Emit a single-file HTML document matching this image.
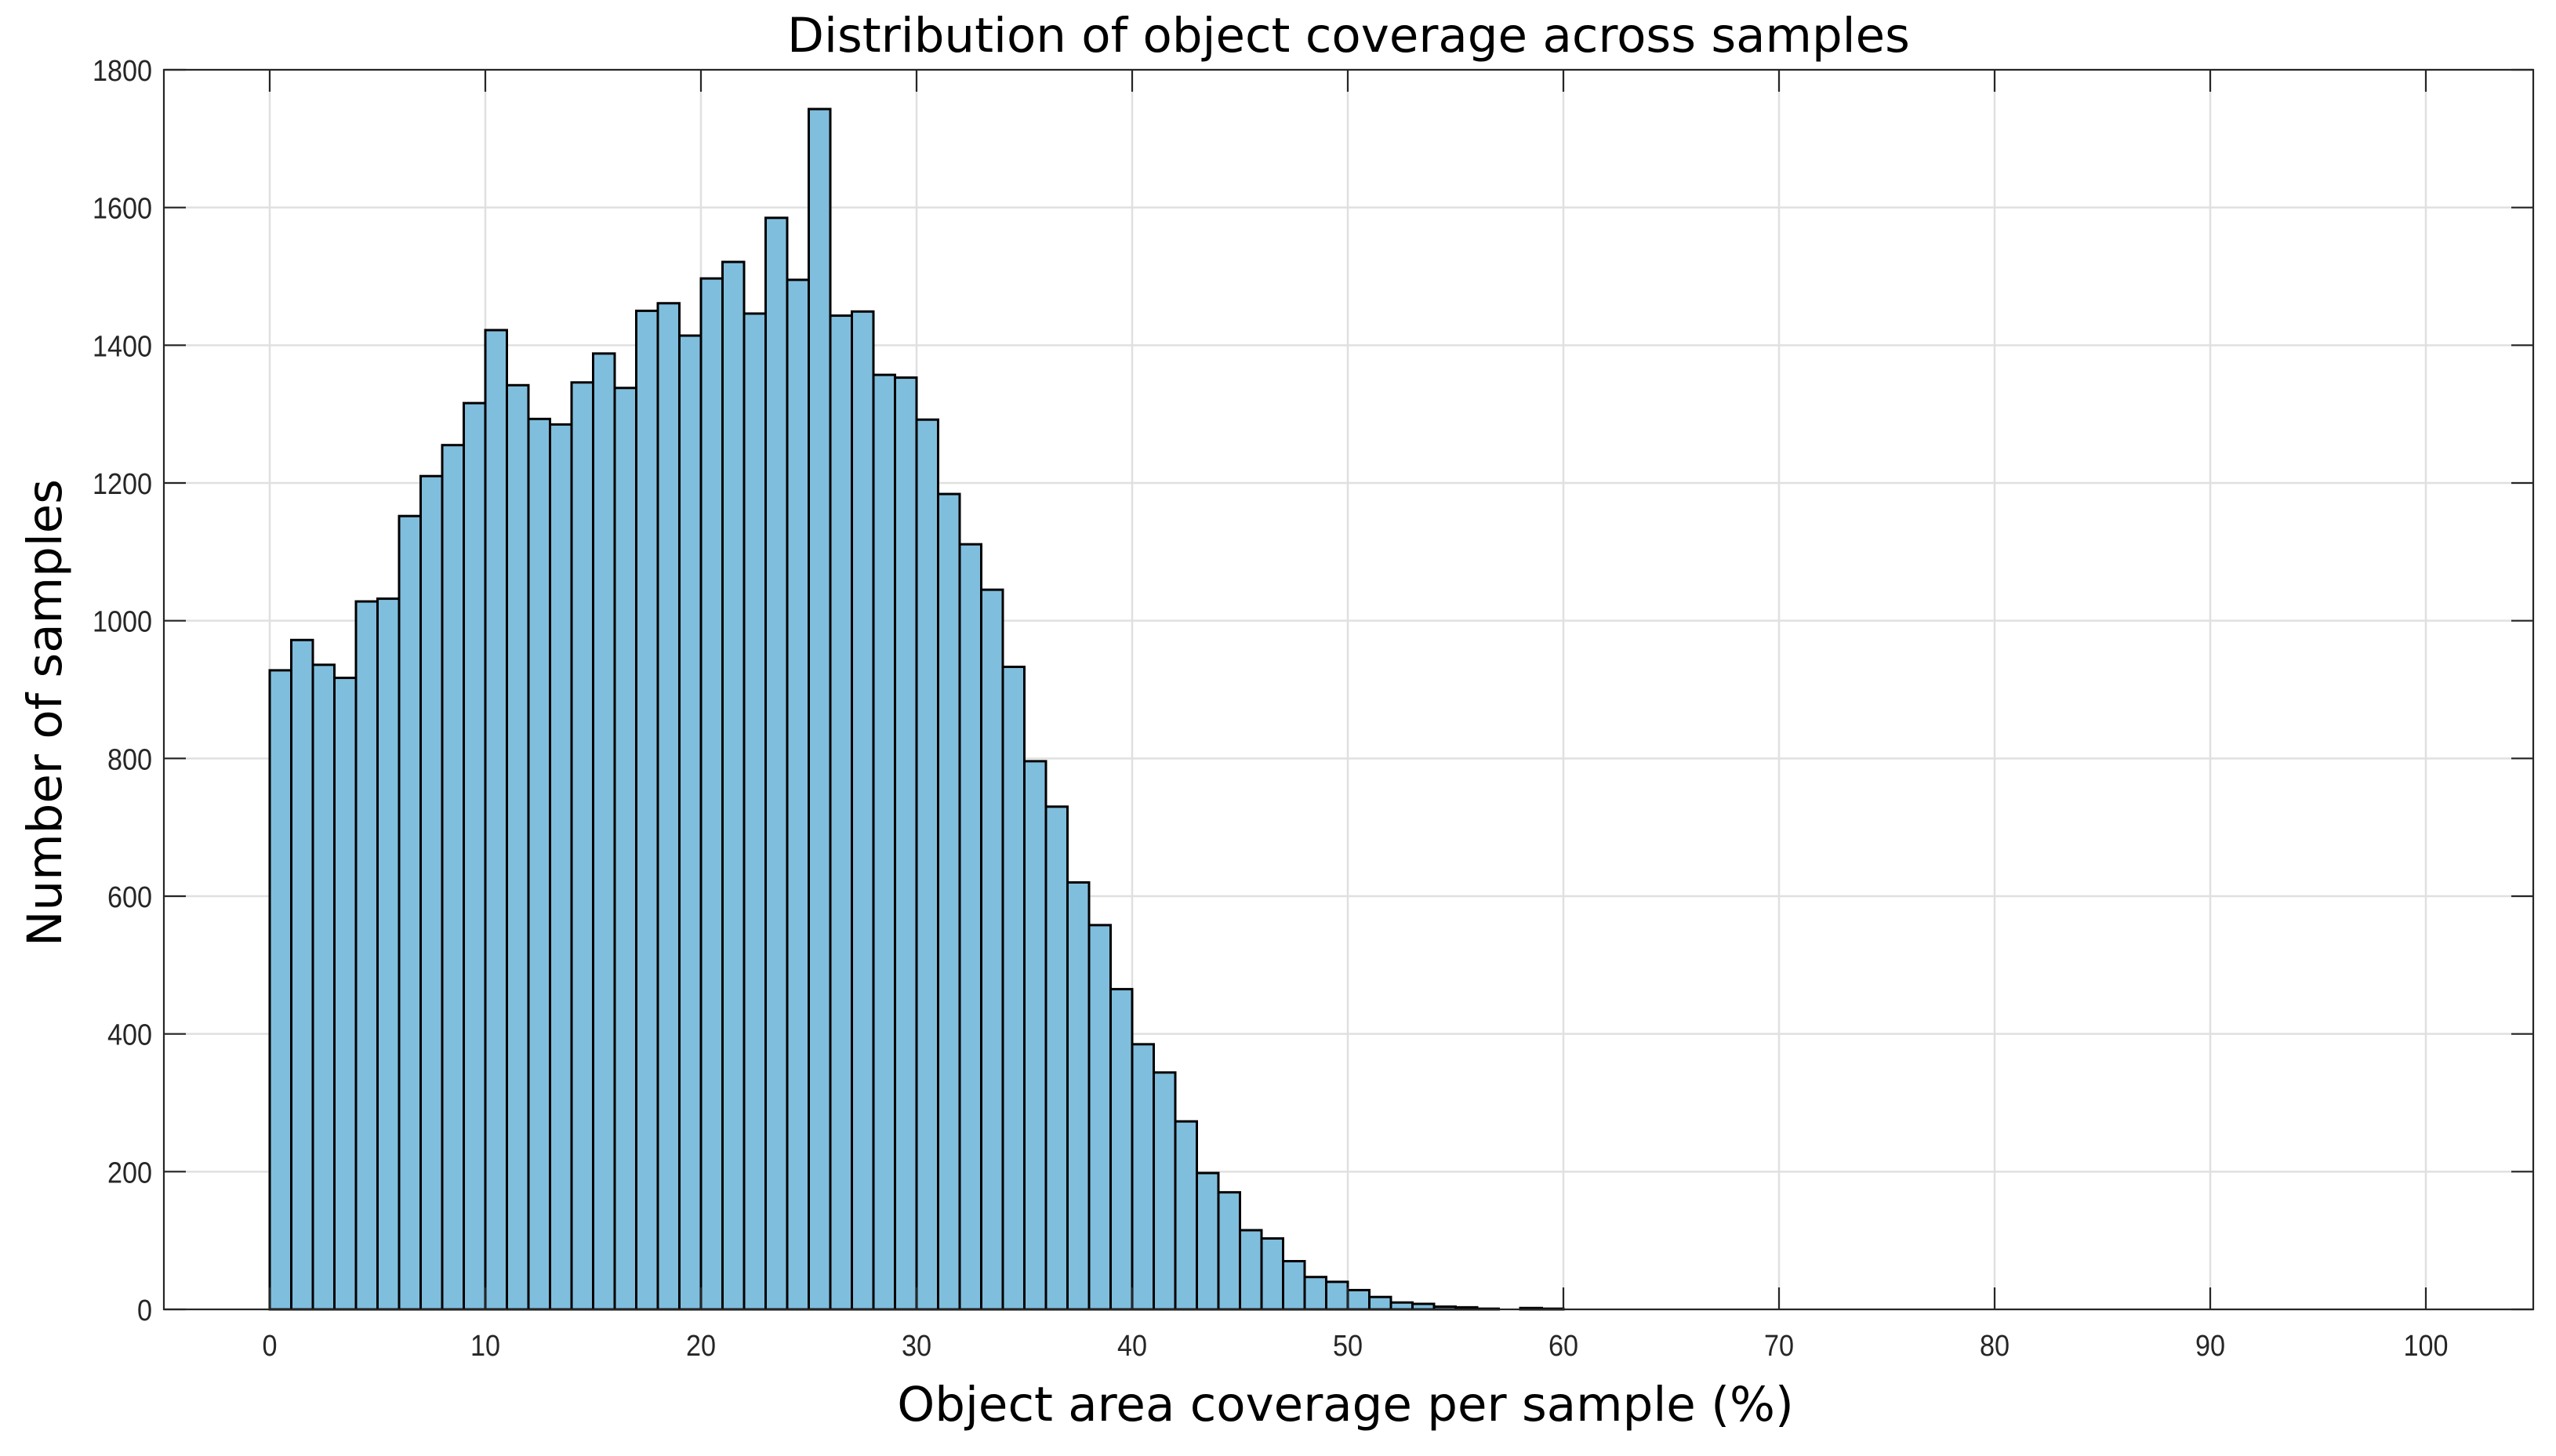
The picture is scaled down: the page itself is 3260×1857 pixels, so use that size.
<!DOCTYPE html>
<html><head><meta charset="utf-8"><style>
html,body{margin:0;padding:0;background:#fff;}
svg{display:block;}
</style></head><body>
<svg id="chart" width="3260" height="1857" xmlns="http://www.w3.org/2000/svg">
<rect width="3260" height="1857" fill="#fff"/>
<g id="grid"></g>
<g id="bars"></g>
<g id="axes"></g>
<text x="1720" y="66" text-anchor="middle" font-family="DejaVu Sans, sans-serif" font-size="61" fill="#000">Distribution of object coverage across samples</text>
<text x="1716" y="1812" text-anchor="middle" font-family="DejaVu Sans, sans-serif" font-size="61" fill="#000">Object area coverage per sample (%)</text>
<text transform="translate(78,909) rotate(-90)" text-anchor="middle" font-family="DejaVu Sans, sans-serif" font-size="61" fill="#000">Number of samples</text>
</svg>
<script>
const binStart = 0;
const binWidth = 1;
const counts = [928,972,936,917,1028,1032,1152,1210,1255,1316,1422,1342,1293,1285,1346,1388,1338,1450,1461,1414,1497,1521,1446,1585,1495,1743,1443,1449,1357,1353,1292,1184,1111,1045,933,796,730,620,558,465,385,344,273,198,170,115,103,70,47,40,28,18,10,8,4,3,1,0,2,1,0,0,0,0,0,0,0,0,0,0,0,0,0,0,0,0,0,0,0,0,0,0,0,0,0,0,0,0,0,0,0,0,0,0,0,0,0,0,0,0];
const xTicks = [0,10,20,30,40,50,60,70,80,90,100];
const yTicks = [0,200,400,600,800,1000,1200,1400,1600,1800];

const NS = "http://www.w3.org/2000/svg";
const L = 209, R = 3231, T = 89, B = 1670;
const yMin = 0, yMax = 1800;
function X(v){ return 344 + (v - 0) * 27.5; }
function Y(v){ return B - (v - yMin) / (yMax - yMin) * (B - T); }
function mk(tag, attrs, parent){ const e = document.createElementNS(NS, tag); for (const k in attrs) e.setAttribute(k, attrs[k]); parent.appendChild(e); return e; }

const grid = document.getElementById('grid');
const bars = document.getElementById('bars');
const axes = document.getElementById('axes');

xTicks.forEach(t => {
  const l = mk('line', {x1:X(t), x2:X(t), y1:T, y2:B, stroke:'#e0e0e0', 'stroke-width':2.5}, grid);
  
  
});
yTicks.forEach(t => {
  const l = mk('line', {x1:L, x2:R, y1:Y(t), y2:Y(t), stroke:'#e0e0e0', 'stroke-width':2.5}, grid);
  
  
});

counts.forEach((c, i) => {
  const x0 = X(binStart + i * binWidth), x1 = X(binStart + (i + 1) * binWidth);
  const r = mk('rect', {x:x0, y:Y(c), width:x1 - x0, height:Y(0) - Y(c), fill:'#80bedd', stroke:'#000', 'stroke-width':3}, bars);
  
  
});

const frame = mk('rect', {x:L, y:T, width:R - L, height:B - T, fill:'none', stroke:'#262626', 'stroke-width':2.2}, axes);



xTicks.forEach(t => {
  mk('line', {x1:X(t), x2:X(t), y1:B, y2:B - 28, stroke:'#262626', 'stroke-width':2.2}, axes);
  mk('line', {x1:X(t), x2:X(t), y1:T, y2:T + 28, stroke:'#262626', 'stroke-width':2.2}, axes);
  const tx = mk('text', {x:0, y:0, 'text-anchor':'middle', 'font-family':'Liberation Sans, sans-serif', 'font-size':38, fill:'#262626', transform:'translate(' + X(t) + ',1729) scale(0.9,1)'}, axes);
  tx.textContent = t;
  
  
});
yTicks.forEach(t => {
  mk('line', {x1:L, x2:L + 28, y1:Y(t), y2:Y(t), stroke:'#262626', 'stroke-width':2.2}, axes);
  mk('line', {x1:R, x2:R - 28, y1:Y(t), y2:Y(t), stroke:'#262626', 'stroke-width':2.2}, axes);
  const ty = mk('text', {x:0, y:0, 'text-anchor':'end', 'font-family':'Liberation Sans, sans-serif', 'font-size':38, fill:'#262626', transform:'translate(194,' + (Y(t) + 14) + ') scale(0.9,1)'}, axes);
  ty.textContent = t;
  
  
});
</script>
</body></html>
